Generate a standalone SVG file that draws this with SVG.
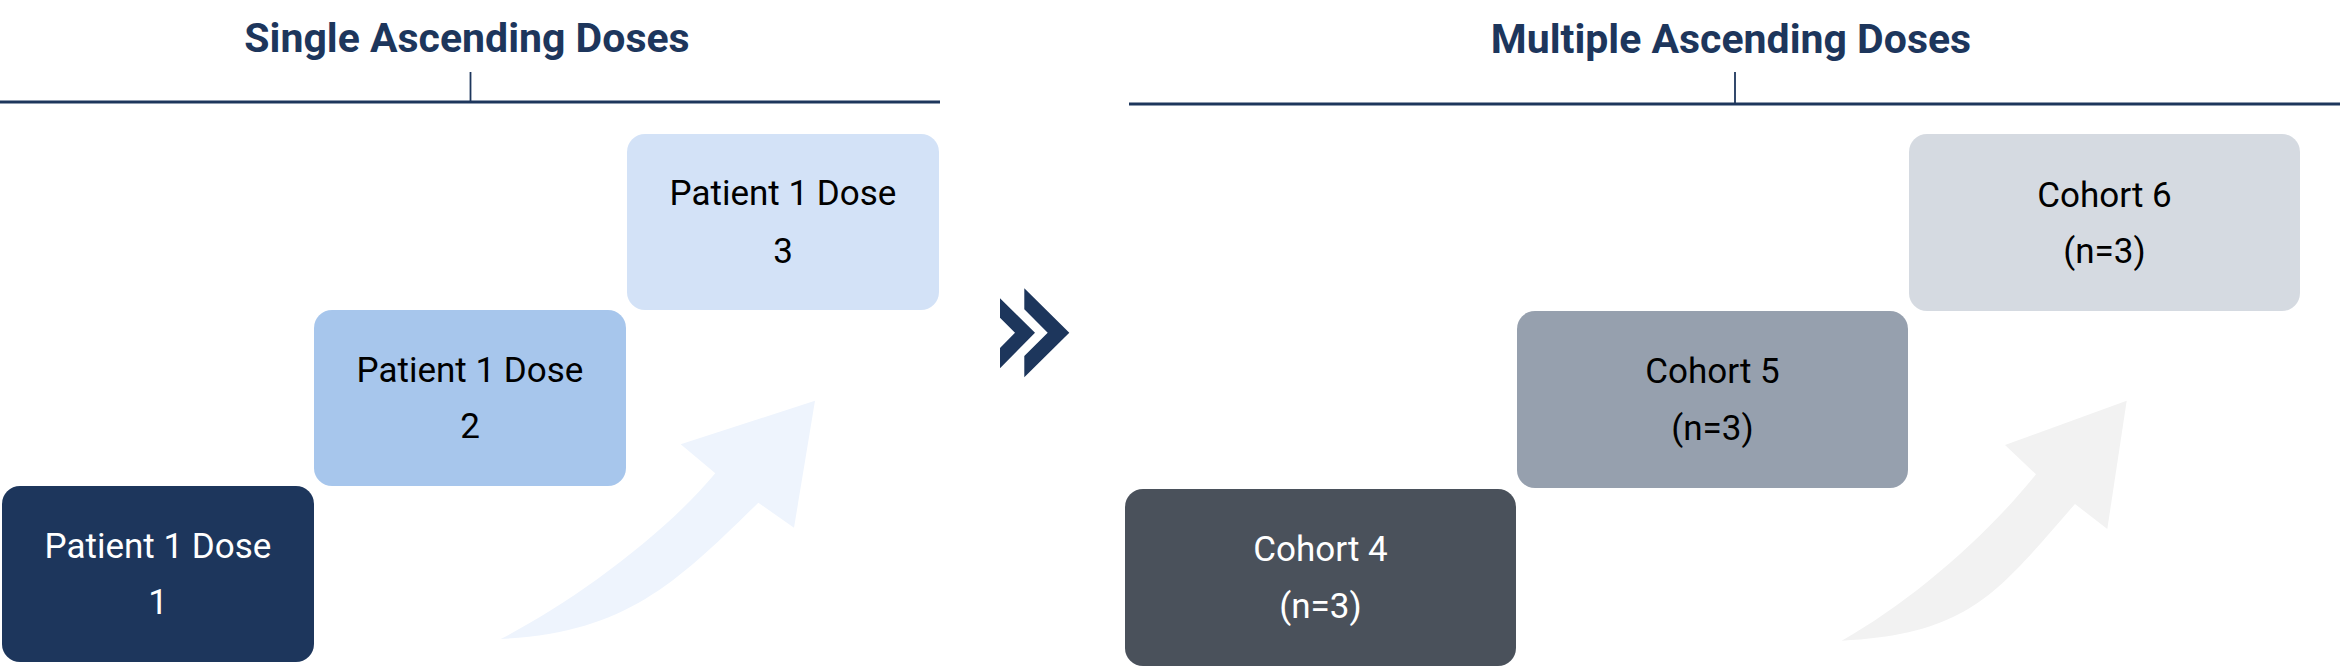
<svg xmlns="http://www.w3.org/2000/svg" width="2340" height="667" viewBox="0 0 2340 667">
<style>
.title{font-family:Roboto,"Liberation Sans",sans-serif;font-weight:700;font-size:41px;fill:#1D365C;text-anchor:middle}
.lbl{font-family:Roboto,"Liberation Sans",sans-serif;font-size:35px;text-anchor:middle}
.dark{fill:#FFFFFF}
.light{fill:#000000}
.rule{stroke:#1D365C;stroke-width:3;fill:none}
.tick{stroke:#1D365C;stroke-width:1.8;fill:none}
</style>
<rect width="2340" height="667" fill="#FFFFFF"/>
<g id="header-sad">
<text class="title" x="467" y="52">Single Ascending Doses</text>
<line class="rule" x1="0" y1="102" x2="940" y2="102"/>
<line class="tick" x1="470.5" y1="72" x2="470.5" y2="102"/>
</g>
<g id="header-mad">
<text class="title" x="1731" y="53">Multiple Ascending Doses</text>
<line class="rule" x1="1129" y1="104" x2="2340" y2="104"/>
<line class="tick" x1="1735" y1="72" x2="1735" y2="104"/>
</g>
<g id="connectors">
<path id="arrow-sad" fill="#EEF4FD" d="M815,400.7 L794,527.7 L758.3,502.7 C676.2,583.2 625.7,632.8 500.7,639 C571.9,602.6 664.1,534.9 715.3,473.3 L680.7,444.3 Z"/>
<path id="arrow-mad" fill="#F2F2F2" d="M2126.7,400.7 L2107.3,529 L2075,504 C1999.1,590.3 1971.7,634.2 1841.7,640.7 C1911.3,601.5 1986,536.7 2036,474.3 L2005,445 Z"/>
<g id="chevrons" fill="#1D365C">
<polygon points="1000,298.3 1035,332.7 1000,368.3 1000,348 1015,332.7 1000,317.7"/>
<polygon points="1024.3,288.3 1069.3,332.7 1024.3,377.3 1024.3,356 1047.7,332.7 1024.3,309.3"/>
</g>
</g>
<g id="dose1">
<rect x="2" y="486" width="312" height="176" rx="18" fill="#1D365C"/>
<text class="lbl dark" x="158" y="558">Patient 1 Dose</text>
<text class="lbl dark" x="158" y="614">1</text>
</g>
<g id="dose2">
<rect x="314" y="310" width="312" height="176" rx="18" fill="#A7C6EC"/>
<text class="lbl light" x="470" y="382">Patient 1 Dose</text>
<text class="lbl light" x="470" y="438">2</text>
</g>
<g id="dose3">
<rect x="627" y="134" width="312" height="176" rx="18" fill="#D3E2F7"/>
<text class="lbl light" x="783" y="205">Patient 1 Dose</text>
<text class="lbl light" x="783" y="263">3</text>
</g>
<g id="cohort4">
<rect x="1125" y="489" width="391" height="177" rx="18" fill="#4A515B"/>
<text class="lbl dark" x="1320.5" y="561">Cohort 4</text>
<text class="lbl dark" x="1320.5" y="618">(n=3)</text>
</g>
<g id="cohort5">
<rect x="1517" y="311" width="391" height="177" rx="18" fill="#96A0AE"/>
<text class="lbl light" x="1712.5" y="383">Cohort 5</text>
<text class="lbl light" x="1712.5" y="440">(n=3)</text>
</g>
<g id="cohort6">
<rect x="1909" y="134" width="391" height="177" rx="18" fill="#D5DAE1"/>
<text class="lbl light" x="2104.5" y="207">Cohort 6</text>
<text class="lbl light" x="2104.5" y="263">(n=3)</text>
</g>
</svg>
